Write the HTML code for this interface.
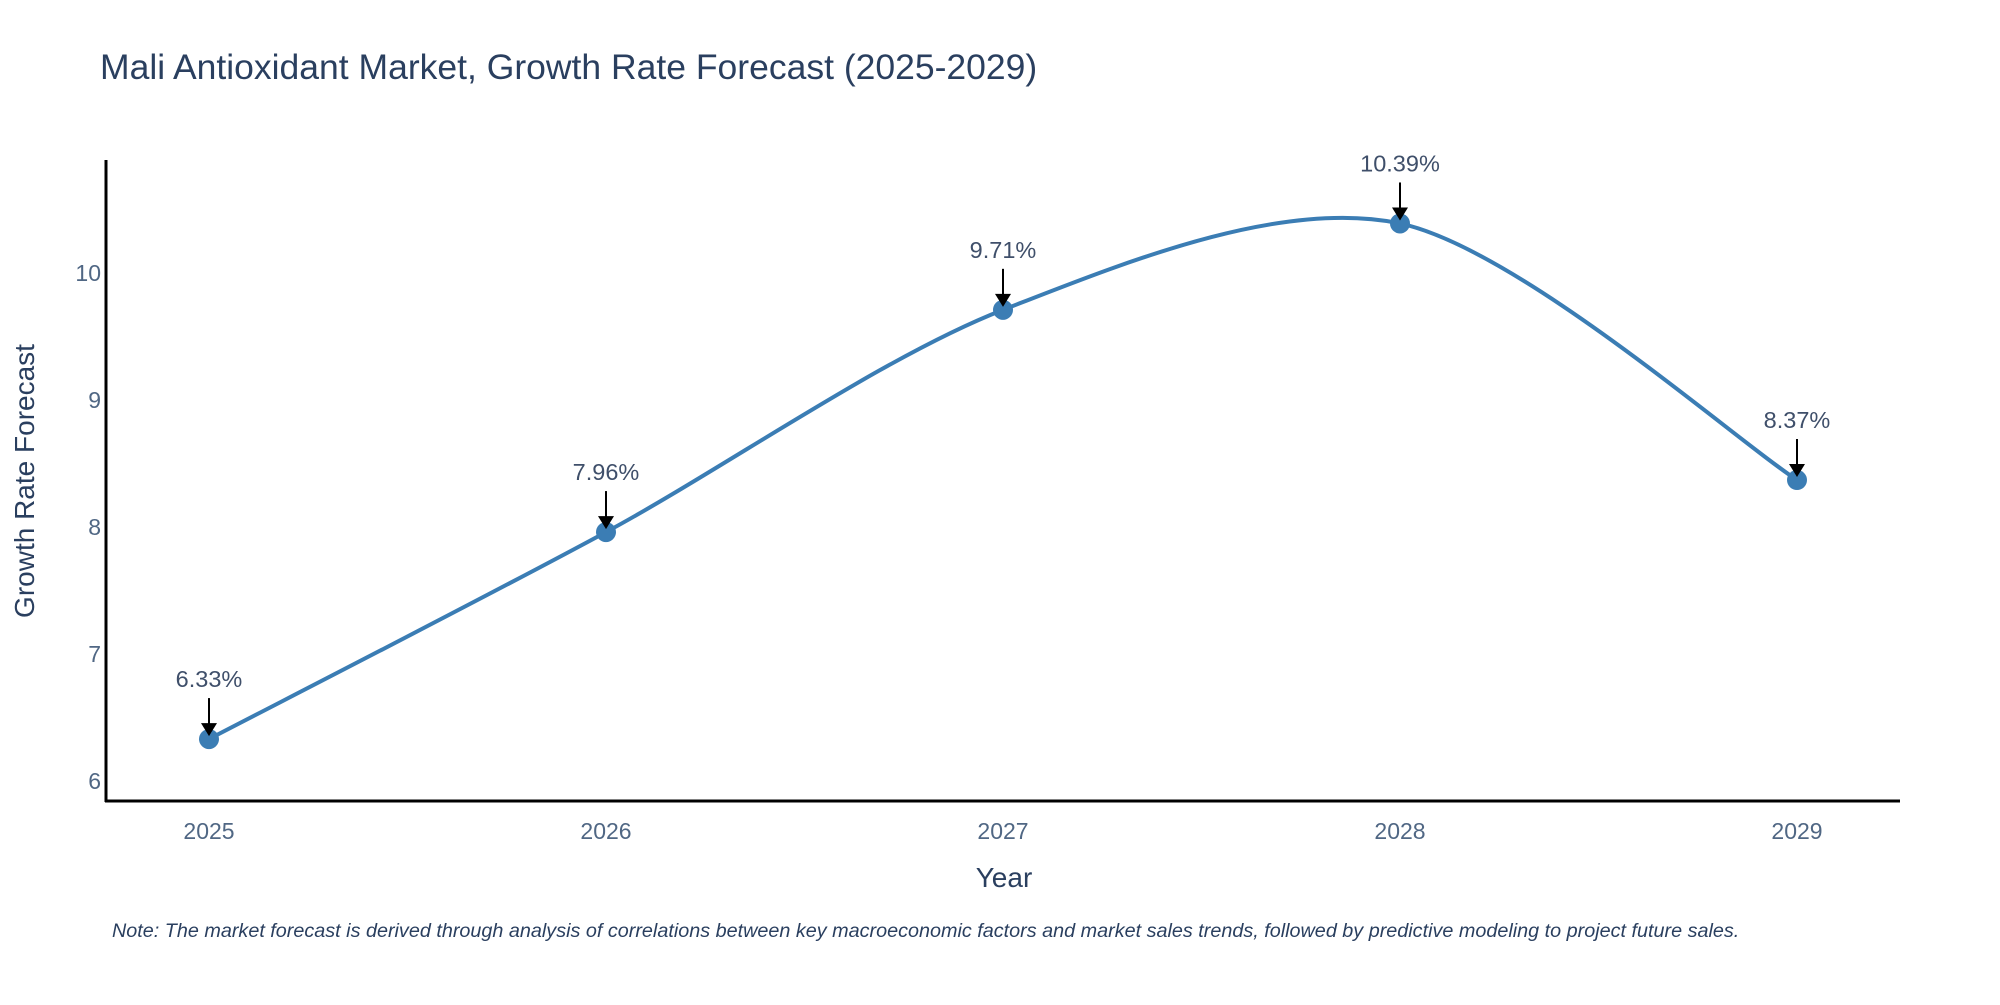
<!DOCTYPE html>
<html><head><meta charset="utf-8"><style>
body{margin:0;background:#fff;}
svg text{font-family:"Liberation Sans",sans-serif;}
</style></head><body>
<svg id="chart" width="2000" height="1000" viewBox="0 0 2000 1000" xmlns="http://www.w3.org/2000/svg">
<text x="100" y="79" font-size="35.5" fill="#2a3f5f">Mali Antioxidant Market, Growth Rate Forecast (2025-2029)</text>
<g id="yticks"></g><g id="xticks"></g>
<path id="line" fill="none" stroke="#3b7db4" stroke-width="4"/>
<g id="points"></g><g id="annots"></g>
<line x1="106" y1="160" x2="106" y2="802" stroke="#000" stroke-width="3"/>
<line x1="105" y1="801" x2="1900" y2="801" stroke="#000" stroke-width="3"/>
<text x="1004" y="887" font-size="28" fill="#2a3f5f" text-anchor="middle">Year</text>
<text transform="translate(34,481) rotate(-90)" font-size="28" fill="#2a3f5f" text-anchor="middle">Growth Rate Forecast</text>
<text x="112" y="937" font-size="19.8" font-style="italic" fill="#2a3f5f">Note: The market forecast is derived through analysis of correlations between key macroeconomic factors and market sales trends, followed by predictive modeling to project future sales.</text>
</svg>
<script>
const years=["2025","2026","2027","2028","2029"];
const values=[6.33,7.96,9.71,10.39,8.37];
const labels=["6.33%","7.96%","9.71%","10.39%","8.37%"];
const yTicks=[6,7,8,9,10];
const NS="http://www.w3.org/2000/svg";
function xs(i){return 209+i*(1797-209)/(years.length-1);}
function ys(v){return 781-(v-6)*127;}
function mk(t,a,p){const e=document.createElementNS(NS,t);for(const k in a)e.setAttribute(k,a[k]);p.appendChild(e);return e;}
const yt=document.getElementById('yticks');
yTicks.forEach(v=>{const t=mk('text',{x:101,y:ys(v)+8,'font-size':23,fill:'#506784','text-anchor':'end'},yt);


t.textContent=v;});
const xt=document.getElementById('xticks');
years.forEach((y,i)=>{const t=mk('text',{x:xs(i),y:839,'font-size':23,fill:'#506784','text-anchor':'middle'},xt);


t.textContent=y;});
const P=values.map((v,i)=>[xs(i),ys(v)]);
let d='M'+P[0][0]+','+P[0][1];
const s=0.15;
for(let i=0;i<P.length-1;i++){const p0=P[i-1]||P[i],p1=P[i],p2=P[i+1],p3=P[i+2]||P[i+1];
const c1=[p1[0]+(p2[0]-p0[0])*s,p1[1]+(p2[1]-p0[1])*s];
const c2=[p2[0]-(p3[0]-p1[0])*s,p2[1]-(p3[1]-p1[1])*s];
d+=' C'+c1+' '+c2+' '+p2;}
document.getElementById('line').setAttribute('d',d);
const pg=document.getElementById('points'),ag=document.getElementById('annots');
P.forEach((p,i)=>{const c=mk('circle',{cx:p[0],cy:p[1],r:10,fill:'#3b7db4'},pg);


const l=mk('line',{x1:p[0],y1:p[1]-41,x2:p[0],y2:p[1]-14,stroke:'#000','stroke-width':2},ag);


const h=mk('polygon',{points:`${p[0]-8},${p[1]-16} ${p[0]+8},${p[1]-16} ${p[0]},${p[1]-3}`,fill:'#000'},ag);


const t=mk('text',{x:p[0],y:p[1]-52,'font-size':23.5,fill:'#3f4f6a','text-anchor':'middle'},ag);


t.textContent=labels[i];});
</script>
</body></html>
